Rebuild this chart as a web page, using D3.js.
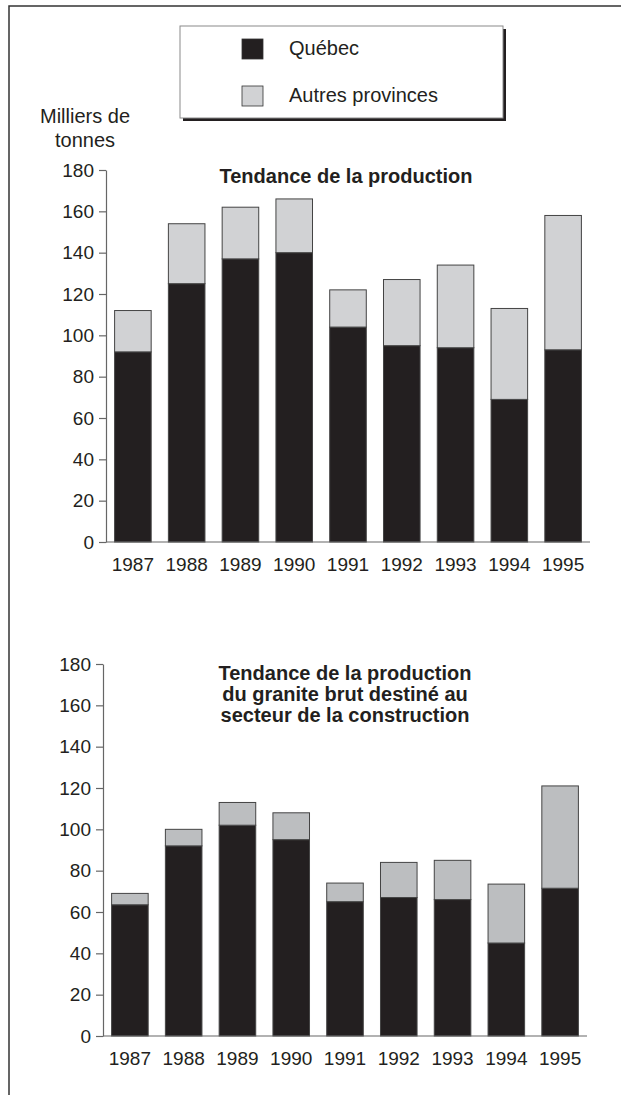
<!DOCTYPE html>
<html lang="fr">
<head>
<meta charset="UTF-8">
<title>Tendance de la production</title>
<script src="https://cdnjs.cloudflare.com/ajax/libs/d3/7.8.5/d3.min.js"></script>
<style>
    body{
        margin:0;
        background:#fff;
        font-family:"Liberation Sans", Arial, sans-serif;
    }
    svg text{
        fill:#231f20;
    }
</style>
</head>
<body>
<svg width="621" height="1095"></svg>
<script>
// data (milliers de tonnes)
const years = ["1987","1988","1989","1990","1991","1992","1993","1994","1995"];
const yTicks = [0,20,40,60,80,100,120,140,160,180];

// chart 1 : production totale
const quebec1 = [92,125,137,140,104,95,94,69,93];
const autres1 = [20,29,25,26,18,32,40,44,65];

// chart 2 : granite brut pour la construction
const quebec2 = [63.5,92,102,95,65,67,66,45,71.5];
const autres2 = [5.5,8,11,13,9,17,19,28.5,49.5];

const title1 = ["Tendance de la production"];
const title2 = ["Tendance de la production","du granite brut destiné au","secteur de la construction"];

const svg = d3.select("svg");

// page frame (left + top)
svg.append("path")
    .attr("d","M9,1095 V6 H621")
    .attr("fill","none")
    .attr("stroke","#333")
    .attr("stroke-width",1.5);

// legend
const leg = svg.append("g");
leg.append("rect").attr("x",183).attr("y",29).attr("width",323).attr("height",92).attr("fill","#231f20");
leg.append("rect").attr("x",180).attr("y",26).attr("width",323).attr("height",92)
    .attr("fill","#fff").attr("stroke","#8a8a8a").attr("stroke-width",1);
const legItems = [{name:"Québec",color:"#231f20",y:39},{name:"Autres provinces",color:"#d1d2d4",y:86}];
legItems.forEach(d=>{
    leg.append("rect").attr("x",242).attr("y",d.y).attr("width",21).attr("height",20)
        .attr("fill",d.color).attr("stroke","#333").attr("stroke-width",0.8);
    leg.append("text").attr("x",289).attr("y",d.y+16).attr("font-size","20px").text(d.name);
});

// unit label
svg.append("text").attr("x",85).attr("y",123).attr("text-anchor","middle").attr("font-size","20px").text("Milliers de");
svg.append("text").attr("x",85).attr("y",147).attr("text-anchor","middle").attr("font-size","20px").text("tonnes");

function drawChart(opts){
    const x = d3.scaleBand().domain(years).range([opts.x0, opts.x1]).paddingInner(0.32).paddingOuter(0.16);
    const y = d3.scaleLinear().domain([0,180]).range([opts.yBottom, opts.yTop]);

    const rows = years.map((yr,i)=>({year:yr, quebec:opts.quebec[i], autres:opts.autres[i]}));
    const series = d3.stack().keys(["quebec","autres"])(rows);
    const colors = {quebec:"#231f20", autres:opts.grey};

    const g = svg.append("g");

    g.selectAll("g.layer")
        .data(series)
        .enter()
        .append("g")
        .attr("class","layer")
        .attr("fill",d=>colors[d.key])
        .selectAll("rect")
        .data(d=>d)
        .enter()
        .append("rect")
        .attr("x",d=>x(d.data.year))
        .attr("y",d=>y(d[1]))
        .attr("width",x.bandwidth())
        .attr("height",d=>y(d[0])-y(d[1]))
        .attr("stroke","#444")
        .attr("stroke-width",1);

    // y axis
    const yAxis = g.append("g")
        .attr("transform",`translate(${opts.x0},0)`)
        .call(d3.axisLeft(y).tickValues(yTicks).tickSize(7).tickSizeOuter(0).tickPadding(5));
    yAxis.select(".domain").attr("stroke","#666").attr("stroke-width",1.2);
    yAxis.selectAll(".tick line").attr("stroke","#666").attr("stroke-width",1.2);
    yAxis.selectAll(".tick text").attr("font-size","19px").attr("font-family","Liberation Sans, Arial, sans-serif").attr("fill","#231f20");

    // x axis (line only) and year labels
    g.append("line")
        .attr("x1",opts.x0).attr("x2",opts.x1)
        .attr("y1",y(0)).attr("y2",y(0))
        .attr("stroke","#666").attr("stroke-width",1.2);
    g.selectAll("text.year")
        .data(years)
        .enter()
        .append("text")
        .attr("class","year")
        .attr("x",d=>x(d)+x.bandwidth()/2)
        .attr("y",y(0)+29)
        .attr("text-anchor","middle")
        .attr("font-size","19px")
        .text(d=>d);

    // title
    g.selectAll("text.title")
        .data(opts.title)
        .enter()
        .append("text")
        .attr("class","title")
        .attr("x",opts.titleX)
        .attr("y",(d,i)=>opts.titleY+i*21)
        .attr("text-anchor","middle")
        .attr("font-size","20px")
        .attr("font-weight","bold")
        .text(d=>d);
}

drawChart({quebec:quebec1, autres:autres1, grey:"#d1d2d4", x0:106, x1:590, yBottom:542, yTop:170,
    title:title1, titleX:346, titleY:183});
drawChart({quebec:quebec2, autres:autres2, grey:"#bcbec0", x0:103, x1:587, yBottom:1036, yTop:664,
    title:title2, titleX:345, titleY:680});
</script>
</body>
</html>
